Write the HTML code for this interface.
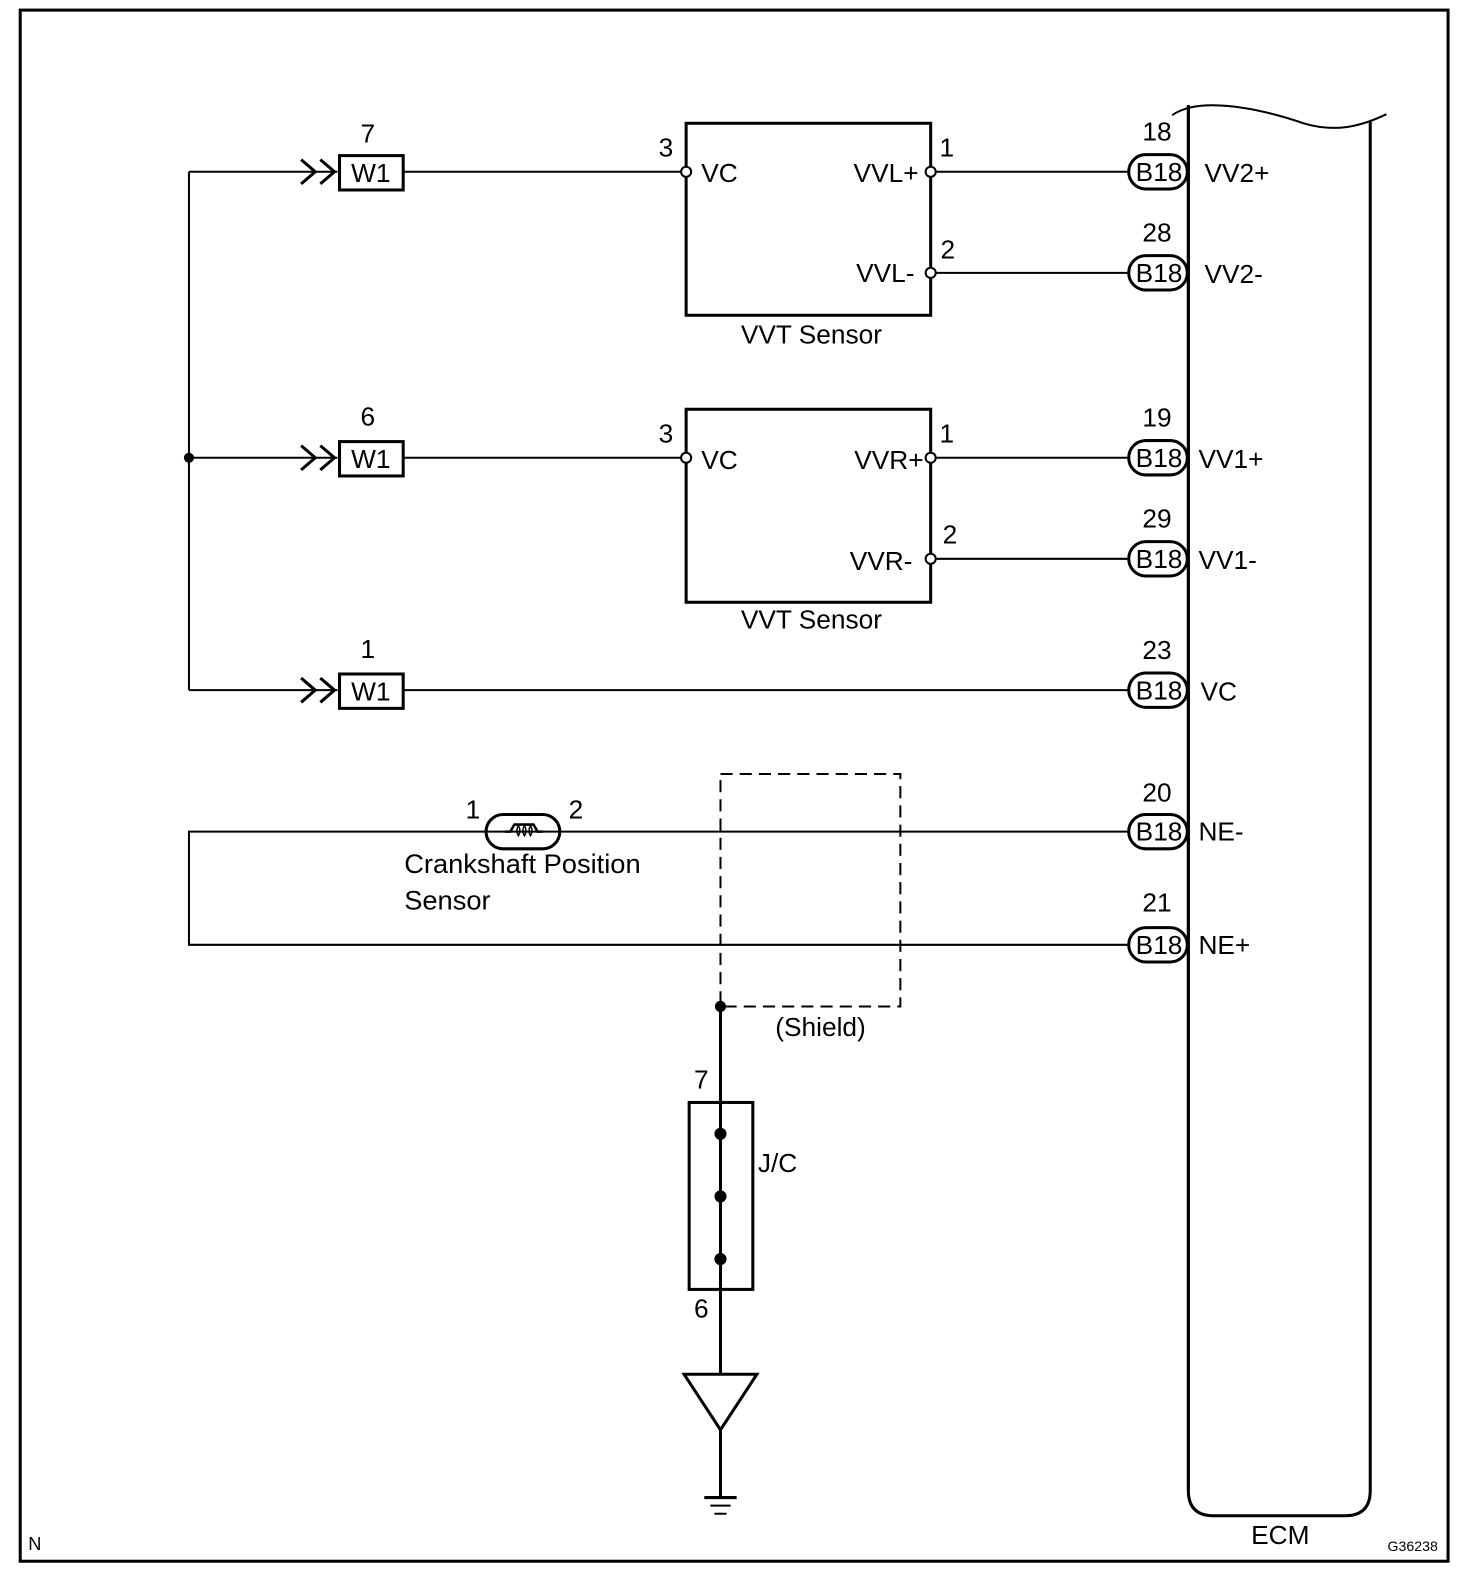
<!DOCTYPE html>
<html><head><meta charset="utf-8"><style>
html,body{margin:0;padding:0;background:#fff;}
svg{display:block;}
text{font-family:"Liberation Sans",Arial,sans-serif;fill:#000;}
</style></head><body>
<svg width="1472" height="1586" viewBox="0 0 1472 1586" xmlns="http://www.w3.org/2000/svg">
<g transform="scale(1.0105)" stroke="#000" fill="none" stroke-width="2">
<rect x="20" y="10" width="1413" height="1535" stroke-width="3"/>
<line x1="187" y1="170" x2="187" y2="683"/>
<circle cx="187" cy="453" r="4" fill="#000"/>
<g id="r1">
<line x1="187" y1="170" x2="334" y2="170"/>
<polyline points="298,158 312,170 298,182" stroke-width="3"/>
<polyline points="317,158 331,170 317,182" stroke-width="3"/>
<rect x="336" y="154" width="63" height="34" stroke-width="3"/>
</g>
<use href="#r1" transform="translate(0,283)"/>
<use href="#r1" transform="translate(0,513)"/>
<line x1="399" y1="170" x2="674" y2="170"/>
<line x1="399" y1="453" x2="674" y2="453"/>
<line x1="399" y1="683" x2="1117" y2="683"/>
<rect x="679" y="122" width="242" height="190" stroke-width="3"/>
<rect x="679" y="405" width="242" height="191" stroke-width="3"/>
<circle cx="679" cy="170" r="5" fill="#fff"/>
<circle cx="921" cy="170" r="5" fill="#fff"/>
<circle cx="921" cy="270" r="5" fill="#fff"/>
<circle cx="679" cy="453" r="5" fill="#fff"/>
<circle cx="921" cy="453" r="5" fill="#fff"/>
<circle cx="921" cy="553" r="5" fill="#fff"/>
<line x1="926" y1="170" x2="1117" y2="170"/>
<line x1="926" y1="270" x2="1117" y2="270"/>
<line x1="926" y1="453" x2="1117" y2="453"/>
<line x1="926" y1="553" x2="1117" y2="553"/>
<polyline points="1117,823 187,823 187,935 1117,935"/>
<rect x="481" y="806" width="73" height="34" rx="17" stroke-width="3" fill="#fff"/>
<line x1="481" y1="823" x2="554" y2="823"/>
<path d="M500 823 L505 823 L509 816 L528 816 L532 823 L537 823" stroke-width="2.5"/>
<path d="M513 817 q-3 5 0 10 q3 -5 0 -10 M519 817 q-3 5 0 10 q3 -5 0 -10 M525 817 q-3 5 0 10 q3 -5 0 -10" stroke-width="1.5"/>
<rect x="713" y="766" width="178" height="230" stroke-dasharray="12,7"/>
<circle cx="713" cy="996" r="4.5" fill="#000"/>
<line x1="713" y1="996" x2="713" y2="1482" stroke-width="3"/>
<rect x="682" y="1091" width="63" height="185" stroke-width="3"/>
<circle cx="713" cy="1122" r="5" fill="#000"/>
<circle cx="713" cy="1184" r="5" fill="#000"/>
<circle cx="713" cy="1246" r="5" fill="#000"/>
<polygon points="677,1360 749,1360 713,1415" stroke-width="3" fill="#fff"/>
<line x1="697" y1="1482" x2="729" y2="1482" stroke-width="3"/>
<line x1="703" y1="1490" x2="723" y2="1490"/>
<line x1="707" y1="1498" x2="719" y2="1498"/>
<path d="M1176 104 L1176 1475 Q1176 1500 1201 1500 L1331 1500 Q1356 1500 1356 1475 L1356 120" stroke-width="3"/>
<path d="M1160 114 C1185 96 1240 105 1290 122 C1320 131 1345 126 1372 113" stroke-width="2"/>
<g id="p"><rect x="1117" y="153" width="58" height="34" rx="17" stroke-width="3" fill="#fff"/></g>
<use href="#p" transform="translate(0,100)"/>
<use href="#p" transform="translate(0,283)"/>
<use href="#p" transform="translate(0,383)"/>
<use href="#p" transform="translate(0,513)"/>
<use href="#p" transform="translate(0,653)"/>
<use href="#p" transform="translate(0,765)"/>
<line x1="1176" y1="104" x2="1176" y2="1475" stroke-width="3"/>
</g>
<g transform="scale(1.0105)" font-size="26">
<text x="367" y="180" text-anchor="middle">W1</text>
<text x="367" y="463" text-anchor="middle">W1</text>
<text x="367" y="693" text-anchor="middle">W1</text>
<text x="364" y="141" text-anchor="middle">7</text>
<text x="364" y="421" text-anchor="middle">6</text>
<text x="364" y="651" text-anchor="middle">1</text>
<text x="659" y="155" text-anchor="middle">3</text>
<text x="659" y="438" text-anchor="middle">3</text>
<text x="694" y="180">VC</text>
<text x="694" y="464">VC</text>
<text x="909" y="180" text-anchor="end">VVL+</text>
<text x="905" y="279" text-anchor="end">VVL-</text>
<text x="914" y="464" text-anchor="end">VVR+</text>
<text x="903" y="564" text-anchor="end">VVR-</text>
<text x="937" y="155" text-anchor="middle">1</text>
<text x="938" y="256" text-anchor="middle">2</text>
<text x="937" y="438" text-anchor="middle">1</text>
<text x="940" y="538" text-anchor="middle">2</text>
<text x="803" y="340" text-anchor="middle">VVT Sensor</text>
<text x="803" y="622" text-anchor="middle">VVT Sensor</text>
<g text-anchor="middle">
<text x="1147" y="179">B18</text><text x="1147" y="279">B18</text>
<text x="1147" y="462">B18</text><text x="1147" y="562">B18</text>
<text x="1147" y="692">B18</text><text x="1147" y="832">B18</text>
<text x="1147" y="944">B18</text>
<text x="1145" y="139">18</text><text x="1145" y="239">28</text>
<text x="1145" y="422">19</text><text x="1145" y="522">29</text>
<text x="1145" y="652">23</text><text x="1145" y="793">20</text>
<text x="1145" y="902">21</text>
</g>
<text x="1192" y="180">VV2+</text>
<text x="1192" y="280">VV2-</text>
<text x="1186" y="463">VV1+</text>
<text x="1186" y="563">VV1-</text>
<text x="1188" y="693">VC</text>
<text x="1186" y="832">NE-</text>
<text x="1186" y="944">NE+</text>
<text x="468" y="810" text-anchor="middle">1</text>
<text x="570" y="810" text-anchor="middle">2</text>
<text x="400" y="864" font-size="27">Crankshaft Position</text>
<text x="400" y="900" font-size="27">Sensor</text>
<text x="812" y="1025" text-anchor="middle">(Shield)</text>
<text x="694" y="1077" text-anchor="middle">7</text>
<text x="694" y="1304" text-anchor="middle">6</text>
<text x="750" y="1160">J/C</text>
<text x="1267" y="1528" text-anchor="middle">ECM</text>
<text x="28" y="1534" font-size="18">N</text>
<text x="1398" y="1535" font-size="14" text-anchor="middle">G36238</text>
</g>
</svg>
</body></html>
